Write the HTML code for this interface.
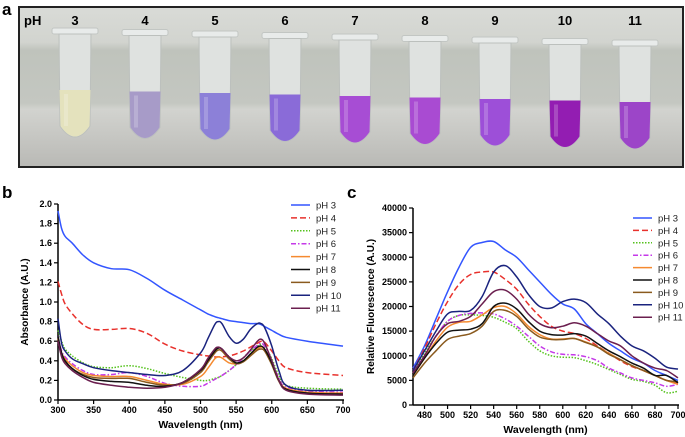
<!DOCTYPE html>
<html><head><meta charset="utf-8">
<style>
body{margin:0;background:#fff;width:685px;height:437px;overflow:hidden;font-family:"Liberation Sans",sans-serif}
svg{display:block}
</style></head>
<body>
<svg id="fig" width="685" height="437" viewBox="0 0 685 437" xmlns="http://www.w3.org/2000/svg">
<defs>
<linearGradient id="bg" x1="0" y1="0" x2="0" y2="1">
<stop offset="0" stop-color="#d9dbd7"/><stop offset="0.22" stop-color="#d2d4cf"/><stop offset="0.27" stop-color="#bfc3bc"/><stop offset="0.6" stop-color="#c4c7c1"/><stop offset="0.64" stop-color="#d2d3cf"/><stop offset="1" stop-color="#b9b9b5"/>
</linearGradient>
</defs>
<text x="2" y="15" font-size="17" font-weight="bold">a</text>
<g id="photo">
<rect x="19" y="7" width="664" height="160" fill="url(#bg)" stroke="#222" stroke-width="2"/>
</g>
<text x="2" y="198" font-size="17" font-weight="bold">b</text>
<text x="347" y="198" font-size="17" font-weight="bold">c</text>
<g id="chartB"></g>
<g id="chartC"></g>
</svg>
<script>
const NS="http://www.w3.org/2000/svg";
const phLabels=["pH 3","pH 4","pH 5","pH 6","pH 7","pH 8","pH 9","pH 10","pH 11"];
const tubeLabels=["3","4","5","6","7","8","9","10","11"];
const tubeColors=["#e4e2bd","#a79bc8","#8c80d8","#8a6bd8","#a74dd4","#a94bd2","#9d4fd8","#931db2","#9c45c8"];
const seriesColors=["#3355ff","#e8312c","#55c21d","#c53ae8","#f58a30","#111111","#8a5a1e","#1a237e","#6b1f4f"];
const seriesDash=["","6,3","1.5,1.5","5,2,1.5,2","","","","",""];

const absWl=[300,305,310,320,335,350,375,400,425,450,475,500,510,520,525,530,540,550,560,570,580,585,590,600,610,620,650,700];
const abs3=[1.93,1.75,1.67,1.6,1.48,1.4,1.34,1.33,1.24,1.12,1.02,0.92,0.88,0.85,0.84,0.83,0.81,0.8,0.79,0.78,0.78,0.77,0.75,0.71,0.67,0.64,0.6,0.55];
const abs4=[1.21,1.08,0.98,0.88,0.77,0.72,0.72,0.73,0.68,0.57,0.5,0.46,0.45,0.44,0.44,0.44,0.45,0.47,0.5,0.54,0.58,0.6,0.59,0.5,0.4,0.33,0.28,0.25];
const abs5=[0.71,0.6,0.52,0.45,0.38,0.34,0.33,0.35,0.32,0.27,0.23,0.2,0.2,0.22,0.23,0.25,0.3,0.36,0.43,0.5,0.55,0.57,0.55,0.42,0.25,0.15,0.12,0.11];
const abs6=[0.65,0.5,0.44,0.37,0.3,0.26,0.26,0.28,0.24,0.17,0.14,0.14,0.17,0.21,0.23,0.25,0.3,0.36,0.43,0.5,0.56,0.58,0.55,0.4,0.22,0.13,0.09,0.08];
const abs7=[0.63,0.48,0.42,0.35,0.28,0.25,0.24,0.24,0.2,0.16,0.16,0.24,0.32,0.42,0.44,0.43,0.38,0.37,0.4,0.46,0.52,0.54,0.52,0.38,0.2,0.12,0.08,0.07];
const abs8=[0.65,0.48,0.4,0.32,0.25,0.21,0.19,0.18,0.15,0.14,0.18,0.3,0.4,0.5,0.53,0.52,0.44,0.38,0.4,0.47,0.54,0.55,0.52,0.38,0.2,0.11,0.07,0.06];
const abs9=[0.6,0.46,0.39,0.32,0.26,0.23,0.22,0.22,0.18,0.15,0.17,0.28,0.38,0.48,0.51,0.5,0.42,0.37,0.39,0.45,0.51,0.52,0.5,0.36,0.19,0.11,0.07,0.06];
const abs10=[0.83,0.58,0.5,0.42,0.37,0.33,0.3,0.28,0.26,0.25,0.3,0.48,0.62,0.77,0.8,0.78,0.65,0.58,0.62,0.72,0.78,0.78,0.74,0.55,0.3,0.15,0.1,0.1];
const abs11=[0.6,0.44,0.37,0.3,0.23,0.18,0.15,0.13,0.12,0.13,0.18,0.31,0.42,0.52,0.54,0.52,0.44,0.4,0.43,0.51,0.6,0.62,0.58,0.4,0.2,0.1,0.06,0.05];
const absXTicks=[300,350,400,450,500,550,600,650,700];
const absYTicks=[0,0.2,0.4,0.6,0.8,1.0,1.2,1.4,1.6,1.8,2.0];

const flWl=[470,480,490,500,510,520,530,540,550,560,570,580,590,600,610,620,630,640,650,660,670,680,690,700];
const fl3=[7500,12000,17500,23000,28000,32000,33000,33200,31500,30000,27500,25000,22500,20500,19500,16500,14500,12500,11000,9500,8500,7000,6000,5000];
const fl4=[7000,11500,16500,21000,24500,26500,27000,27000,25500,23500,20500,18000,16000,15000,14500,13500,12000,10500,9000,7800,7000,6000,5000,4500];
const fl5=[6500,10500,14000,17000,18200,18300,18200,17800,16800,15500,13000,11000,10000,9700,9600,9000,8200,7200,6200,5200,4800,4000,2500,2800];
const fl6=[6500,10000,14000,17000,18200,18600,18700,18500,17500,16000,14000,12000,10800,10300,10200,9800,9000,7500,6500,5500,5000,4500,3800,4200];
const fl7=[6000,9500,13000,15800,16800,17000,18300,19800,20000,18500,16000,14300,13400,13400,13500,12800,11800,10500,9200,8000,7000,6000,5000,4200];
const fl8=[6000,9500,12500,14800,15200,15400,16500,20000,20700,19500,17000,15000,14300,14200,14500,14000,12500,11000,9800,8500,7500,6000,6000,4500];
const fl9=[5500,8500,11000,13300,14000,14500,16000,19000,19200,18000,15500,13800,13300,13300,13500,12700,11800,10300,9200,8000,7000,6000,5000,4700];
const fl10=[7000,11000,15000,18500,19000,19200,22000,27000,28300,26000,22500,20000,19700,21000,21500,20800,18500,16500,14000,12000,11000,9500,7700,7300];
const fl11=[6500,10000,14000,16500,17000,18000,20500,23000,23300,21500,18500,16500,15700,16000,16700,16000,14500,13000,12000,10000,8500,7500,7000,5500];
const flXTicks=[480,500,520,540,560,580,600,620,640,660,680,700];
const flYTicks=[0,5000,10000,15000,20000,25000,30000,35000,40000];

function mk(tag,attrs,parent){const e=document.createElementNS(NS,tag);for(const k in attrs)e.setAttribute(k,attrs[k]);parent.appendChild(e);return e;}
function smooth(pts){let d="M"+pts[0][0].toFixed(1)+","+pts[0][1].toFixed(1);
 for(let i=0;i<pts.length-1;i++){const p0=pts[Math.max(0,i-1)],p1=pts[i],p2=pts[i+1],p3=pts[Math.min(pts.length-1,i+2)];
 const c1=[p1[0]+(p2[0]-p0[0])/6,p1[1]+(p2[1]-p0[1])/6],c2=[p2[0]-(p3[0]-p1[0])/6,p2[1]-(p3[1]-p1[1])/6];
 d+="C"+c1[0].toFixed(1)+","+c1[1].toFixed(1)+" "+c2[0].toFixed(1)+","+c2[1].toFixed(1)+" "+p2[0].toFixed(1)+","+p2[1].toFixed(1);}
 return d;}

const photo=document.getElementById('photo');
mk('text',{x:24,y:25,'font-size':13,'font-weight':'bold'},photo).textContent="pH";
tubeLabels.forEach((t,i)=>{
 const cx=75+i*70;const top=28+i*1.5;
 const g=mk('g',{},photo);
 
 
 const lb=mk('text',{x:cx,y:25,'font-size':13,'font-weight':'bold','text-anchor':'middle'},g);lb.textContent=t;
 mk('rect',{x:cx-23,y:top,width:46,height:6,rx:2,fill:'#e8ebea',stroke:'#c2c6c3'},g);
 mk('path',{d:`M${cx-16},${top+6} L${cx+16},${top+6} L${cx+15},${top+98} Q${cx},${top+120} ${cx-15},${top+98} Z`,fill:'#dfe2e0',stroke:'#bcc0bd'},g);
 const lt=top+62;
 mk('path',{d:`M${cx-15.5},${lt} L${cx+15.5},${lt} L${cx+14.5},${top+98} Q${cx},${top+119} ${cx-14.5},${top+98} Z`,fill:tubeColors[i]},g);
 mk('rect',{x:cx-11,y:lt+4,width:4,height:32,fill:'#ffffff',opacity:0.2},g);
});

function drawChart(gid,cfg){
 const g=document.getElementById(gid);
 const X=v=>cfg.x0+(v-cfg.xmin)/(cfg.xmax-cfg.xmin)*(cfg.x1-cfg.x0);
 const Y=v=>cfg.y0-(v-cfg.ymin)/(cfg.ymax-cfg.ymin)*(cfg.y0-cfg.y1);
 const ax=mk('g',{},g);
 
 
 mk('line',{x1:cfg.x0,y1:cfg.y0,x2:cfg.x1+1,y2:cfg.y0,stroke:'#000','stroke-width':1.5},ax);
 mk('line',{x1:cfg.x0,y1:cfg.y0,x2:cfg.x0,y2:cfg.y1,stroke:'#000','stroke-width':1.5},ax);
 cfg.xt.forEach(v=>{mk('line',{x1:X(v),y1:cfg.y0,x2:X(v),y2:cfg.y0+4,stroke:'#000','stroke-width':1.2},ax);
  const t=mk('text',{x:X(v),y:cfg.y0+13,'font-size':9,'font-weight':'bold','text-anchor':'middle'},ax);t.textContent=v;
  
  });
 cfg.yt.forEach(v=>{mk('line',{x1:cfg.x0-4,y1:Y(v),x2:cfg.x0,y2:Y(v),stroke:'#000','stroke-width':1.2},ax);
  const t=mk('text',{x:cfg.x0-6,y:Y(v)+3,'font-size':9,'font-weight':'bold','text-anchor':'end'},ax);t.textContent=cfg.fmt(v);
  
  });
 const xt=mk('text',{x:(cfg.x0+cfg.x1)/2,y:cfg.y0+28,'font-size':10.5,'font-weight':'bold','text-anchor':'middle'},g);xt.textContent="Wavelength (nm)";
 
 
 const yt=mk('text',{x:0,y:0,'font-size':10,'font-weight':'bold','text-anchor':'middle',transform:`translate(${cfg.ytx},${(cfg.y0+cfg.y1)/2}) rotate(-90)`},g);yt.textContent=cfg.ytitle;
 
 
 const order=[0,1,2,3,4,6,5,8,7];
 order.forEach(i=>{const s=cfg.series[i];
  const pts=cfg.wl.map((w,j)=>[X(w),Y(s[j])]);
  const p=mk('path',{d:smooth(pts),fill:'none',stroke:seriesColors[i],'stroke-width':1.5,'stroke-dasharray':seriesDash[i]||'none'},g);
  
  
 });
 phLabels.forEach((l,i)=>{const y=cfg.ly+i*cfg.ls;
  const e=mk('g',{},g);
  
  
  mk('line',{x1:cfg.lx,y1:y,x2:cfg.lx+19,y2:y,stroke:seriesColors[i],'stroke-width':1.5,'stroke-dasharray':seriesDash[i]||'none'},e);
  const t=mk('text',{x:cfg.lx+25,y:y+3.5,'font-size':9.5,fill:'#222'},e);t.textContent=l;});
}
drawChart('chartB',{x0:58,x1:343,y0:400,y1:204,xmin:300,xmax:700,ymin:0,ymax:2,wl:absWl,
 series:[abs3,abs4,abs5,abs6,abs7,abs8,abs9,abs10,abs11],xt:absXTicks,yt:absYTicks,fmt:v=>v.toFixed(1),
 ytitle:"Absorbance (A.U.)",ytx:28,lx:291,ly:205,ls:12.9});
drawChart('chartC',{x0:413,x1:678,y0:405,y1:208,xmin:470,xmax:700,ymin:0,ymax:40000,wl:flWl,
 series:[fl3,fl4,fl5,fl6,fl7,fl8,fl9,fl10,fl11],xt:flXTicks,yt:flYTicks,fmt:v=>String(v),
 ytitle:"Relative Fluorescence (A.U.)",ytx:374,lx:633,ly:218,ls:12.4});
</script>
</body></html>
